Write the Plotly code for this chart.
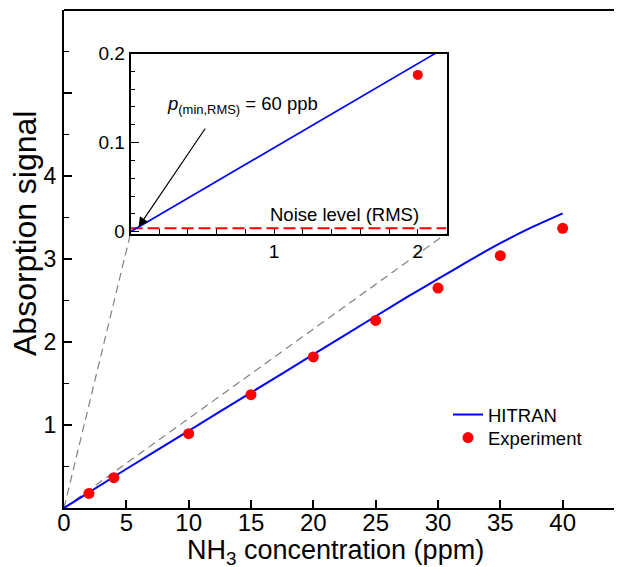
import plotly.graph_objects as go

# ---------------- data ----------------
hitran_conc = [0, 5, 10, 15, 20, 25, 27.5, 30, 32.5, 35, 37.5, 40]
hitran_signal = [0, 0.47, 0.93, 1.39, 1.85, 2.31, 2.54, 2.76, 2.98, 3.19, 3.38, 3.55]

exp_conc = [2, 4, 10, 15, 20, 25, 30, 35, 40]
exp_signal = [0.175, 0.365, 0.895, 1.365, 1.82, 2.26, 2.65, 3.04, 3.37]

inset_conc = [0, 2.2]
inset_hitran = [0, 0.2075]
inset_exp_conc = [2]
inset_exp_signal = [0.176]
noise_level = 0.004

x_ticks = [0, 5, 10, 15, 20, 25, 30, 35, 40]
y_ticks = [1, 2, 3, 4, 5]
y_ticktext = ["1", "2", "3", "4", ""]
inset_x_ticks = [1, 2]
inset_y_ticks = [0, 0.1, 0.2]
inset_y_ticktext = ["0", "0.1", "0.2"]

# ---------------- style ----------------
FONT = "Liberation Sans, Arial, sans-serif"
BLUE = "#0000ff"
RED = "#ff0000"
W, H = 622, 567
OFF = 8  # page body margin
ML, MR, MT, MB = 56, 5, 2, 67
pw, ph = W - ML - MR, H - MT - MB


def px_x(s):
    return (s - OFF - ML) / pw


def px_y(s):
    return (H - MB - (s - OFF)) / ph


ix0, ix1 = px_x(130.5), px_x(446.5)
iy0, iy1 = px_y(233.5), px_y(53.5)

fig = go.Figure()

fig.add_trace(go.Scatter(x=hitran_conc, y=hitran_signal, mode="lines", name="HITRAN",
                         line=dict(color=BLUE, width=2, shape="spline", smoothing=0.5),
                         xaxis="x", yaxis="y", legend="legend"))
fig.add_trace(go.Scatter(x=exp_conc, y=exp_signal, mode="markers", name="Experiment",
                         marker=dict(color=RED, size=11), xaxis="x", yaxis="y",
                         legend="legend2"))

# inset
fig.add_trace(go.Scatter(x=inset_conc, y=[noise_level, noise_level], mode="lines",
                         line=dict(color=RED, width=2, dash="12px,5px"), showlegend=False,
                         xaxis="x2", yaxis="y2"))
fig.add_trace(go.Scatter(x=inset_conc, y=inset_hitran, mode="lines", showlegend=False,
                         line=dict(color=BLUE, width=1.6), xaxis="x2", yaxis="y2"))
fig.add_trace(go.Scatter(x=inset_exp_conc, y=inset_exp_signal, mode="markers", showlegend=False,
                         marker=dict(color=RED, size=10), xaxis="x2", yaxis="y2"))

axis_common = dict(showgrid=False, zeroline=False, showline=True, linecolor="black",
                   ticks="inside", tickcolor="black", automargin=False)

legend_style = dict(xanchor="left", yanchor="top", bgcolor="rgba(0,0,0,0)",
                    font=dict(size=18.5, family=FONT), itemsizing="trace")

fig.update_layout(
    width=W, height=H,
    margin=dict(l=ML, r=MR, t=MT, b=MB, autoexpand=False),
    paper_bgcolor="white", plot_bgcolor="white",
    font=dict(family=FONT, color="black"),
    showlegend=True,
    legend=dict(x=px_x(448), y=px_y(396), **legend_style),
    legend2=dict(x=px_x(448), y=px_y(419), **legend_style),
    xaxis=dict(**axis_common, range=[0, 45], domain=[0, 1], linewidth=2,
               tickmode="array", tickvals=x_ticks, ticklen=8, tickwidth=1.5,
               tickfont=dict(size=24), anchor="y", ticklabelstandoff=-8),
    yaxis=dict(**axis_common, range=[0, 6.0], domain=[0, 1], linewidth=2,
               tickmode="array", tickvals=y_ticks, ticktext=y_ticktext,
               ticklen=8, tickwidth=1.5, tickfont=dict(size=23), anchor="x",
               ticklabelstandoff=1,
               minor=dict(dtick=0.5, tick0=0, ticks="inside", ticklen=5,
                          tickcolor="black", tickwidth=1.2)),
    yaxis3=dict(range=[0, 6.0], overlaying="y", side="right", anchor="x",
                showgrid=False, zeroline=False, showline=True, linecolor="black",
                linewidth=2, showticklabels=False, automargin=False,
                ticks="inside", tickmode="array", tickvals=y_ticks, ticklen=8,
                tickwidth=1.5, tickcolor="black",
                minor=dict(dtick=0.5, tick0=0, ticks="inside", ticklen=5,
                           tickcolor="black", tickwidth=1.2)),
    xaxis2=dict(**axis_common, domain=[ix0, ix1], anchor="y2", range=[0, 2.2],
                mirror=True, linewidth=1.6, tickmode="array", tickvals=inset_x_ticks,
                ticklen=5, tickwidth=1.2, tickfont=dict(size=19),
                minor=dict(dtick=0.2, tick0=0, ticks="inside", ticklen=5,
                           tickcolor="black", tickwidth=1.2)),
    yaxis2=dict(**axis_common, domain=[iy0, iy1], anchor="x2", range=[-0.002, 0.2],
                mirror=True, linewidth=1.6, tickmode="array", tickvals=inset_y_ticks,
                ticktext=inset_y_ticktext, ticklen=9, tickwidth=1.2,
                tickfont=dict(size=19),
                minor=dict(dtick=0.02, tick0=0, ticks="inside", ticklen=5,
                           tickcolor="black", tickwidth=1.2)),
)

# frame top line and zoom indicator lines
fig.add_shape(type="line", xref="paper", yref="paper", x0=0, x1=1, y0=1, y1=1,
              line=dict(color="black", width=2))
for xe in (ix0, ix1):
    fig.add_shape(type="line", xref="paper", yref="paper", x0=0, y0=0, x1=xe, y1=iy0,
                  line=dict(color="#808080", width=1.2, dash="8px,5px"), layer="below")

# titles
fig.add_annotation(text="NH<sub>3</sub> concentration (ppm)", xref="paper", yref="paper",
                   x=px_x(335), y=px_y(552), xanchor="center", yanchor="middle",
                   showarrow=False, font=dict(size=27, family=FONT))
fig.add_annotation(text="Absorption signal", xref="paper", yref="paper",
                   x=px_x(25), y=px_y(234), xanchor="center", yanchor="middle",
                   textangle=-90, showarrow=False, font=dict(size=32, family=FONT))

# inset annotations
fig.add_annotation(text="<i>p</i><sub>(min,RMS)</sub> = 60 ppb", xref="x2", yref="y2",
                   x=0.78, y=0.1417, xanchor="center", yanchor="middle",
                   showarrow=False, font=dict(size=18.5, family=FONT))
fig.add_annotation(text="", xref="x2", yref="y2", x=0.056, y=0.0053,
                   ax=67.7, ay=-100, axref="pixel", ayref="pixel", showarrow=True,
                   arrowhead=2, arrowsize=1.6, arrowwidth=1.2, arrowcolor="black")
fig.add_annotation(text="Noise level (RMS)", xref="x2", yref="y2",
                   x=1.49, y=0.0188, xanchor="center", yanchor="middle",
                   showarrow=False, font=dict(size=18.5, family=FONT))

fig.write_html("out.html")
